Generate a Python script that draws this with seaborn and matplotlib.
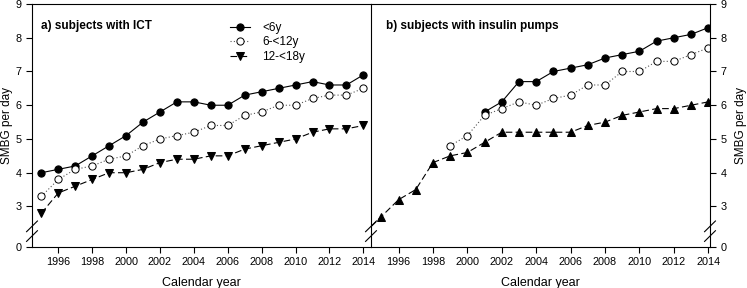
import matplotlib
matplotlib.use("Agg")
import matplotlib.pyplot as plt
import numpy as np
import pandas as pd
import seaborn as sns

years = list(range(1994, 2015))
nan = np.nan

# panel a) subjects with ICT
ict_lt6 = [nan, 4.0, 4.1, 4.2, 4.5, 4.8, 5.1, 5.5, 5.8, 6.1, 6.1, 6.0, 6.0, 6.3, 6.4, 6.5, 6.6, 6.7, 6.6, 6.6, 6.9]
ict_6_12 = [nan, 3.3, 3.8, 4.1, 4.2, 4.4, 4.5, 4.8, 5.0, 5.1, 5.2, 5.4, 5.4, 5.7, 5.8, 6.0, 6.0, 6.2, 6.3, 6.3, 6.5]
ict_12_18 = [nan, 2.8, 3.4, 3.6, 3.8, 4.0, 4.0, 4.1, 4.3, 4.4, 4.4, 4.5, 4.5, 4.7, 4.8, 4.9, 5.0, 5.2, 5.3, 5.3, 5.4]

# panel b) subjects with insulin pumps
csii_lt6 = [nan] * 7 + [5.8, 6.1, 6.7, 6.7, 7.0, 7.1, 7.2, 7.4, 7.5, 7.6, 7.9, 8.0, 8.1, 8.3]
csii_6_12 = [nan] * 5 + [4.8, 5.1, 5.7, 5.9, 6.1, 6.0, 6.2, 6.3, 6.6, 6.6, 7.0, 7.0, 7.3, 7.3, 7.5, 7.7]
csii_12_18 = [2.2, 2.7, 3.2, 3.5, 4.3, 4.5, 4.6, 4.9, 5.2, 5.2, 5.2, 5.2, 5.2, 5.4, 5.5, 5.7, 5.8, 5.9, 5.9, 6.0, 6.1]

groups = ["<6y", "6-<12y", "12-<18y"]
ytick_vals = [3, 4, 5, 6, 7, 8, 9]

plt.rcParams['font.family'] = ['Liberation Sans', 'DejaVu Sans']

fig = plt.figure(figsize=(7.47, 2.88), dpi=100)
ax1 = fig.add_axes([32 / 747, 1 - 247 / 288, 339 / 747, 243 / 288])
ax2 = fig.add_axes([371 / 747, 1 - 247 / 288, 339 / 747, 243 / 288])
ax2.patch.set_visible(False)

styles = {
    "<6y": dict(color="black", linestyle="-", marker="o", markerfacecolor="black",
                markeredgecolor="black", markersize=5.2, linewidth=0.8),
    "6-<12y": dict(color="#555555", linestyle=(0, (1, 2)), marker="o", markerfacecolor="white",
                   markeredgecolor="black", markeredgewidth=0.7, markersize=5.2, linewidth=0.8),
    "12-<18y": dict(color="black", linestyle=(0, (6, 3)), marker="v", markerfacecolor="black",
                    markeredgecolor="black", markersize=5.2, linewidth=0.8),
}


def draw(ax, series, teen_marker):
    for g, vals in zip(groups, series):
        df = pd.DataFrame({"year": years, "smbg": vals}).dropna()
        kw = dict(styles[g])
        if g == "12-<18y":
            kw["marker"] = teen_marker
        sns.lineplot(data=df, x="year", y="smbg", ax=ax, label=g, errorbar=None, **kw)


draw(ax1, [ict_lt6, ict_6_12, ict_12_18], "v")
draw(ax2, [csii_lt6, csii_6_12, csii_12_18], "^")

ybottom = 3 - 40.6 / 33.8
for ax in (ax1, ax2):
    ax.set_ylim(ybottom, 9)
    ax.set_yticks([ybottom] + ytick_vals)
    ax.set_yticklabels(["0"] + [str(v) for v in ytick_vals])
    ax.set_xticks(list(range(1996, 2015, 2)))
    ax.tick_params(direction="out", length=4, width=0.8, labelsize=7.8, colors="black")
    for s in ax.spines.values():
        s.set_linewidth(0.8)
        s.set_color("black")
    ax.set_xlabel("Calendar year", fontsize=9, labelpad=7)
    ax.set_ylabel("SMBG per day", fontsize=8.5, labelpad=2)

ax1.set_xlim(1994.45, 2014.45)
ax2.set_xlim(1994.4, 2014.1)

ax2.yaxis.tick_right()
ax2.yaxis.set_label_position("right")
ax2.set_ylabel("SMBG per day", fontsize=8.5, labelpad=6)
ax2.spines["left"].set_visible(False)

ax1.text(0.027, 0.91, "a) subjects with ICT", transform=ax1.transAxes,
         fontsize=8.5, fontweight="bold", va="center")
ax2.text(0.044, 0.91, "b) subjects with insulin pumps", transform=ax2.transAxes,
         fontsize=8.5, fontweight="bold", va="center")

ax1.legend(loc="upper left", bbox_to_anchor=(0.56, 0.96), frameon=False,
           fontsize=8.5, handlelength=1.7, handletextpad=1.0, labelspacing=0.2,
           borderpad=0.2)
ax2.get_legend().remove()


def breakmark(ax, x):
    dx, dy = 0.016, 0.022
    for y0 in (0.045, 0.085):
        ax.plot([x - dx, x + dx], [y0 - dy, y0 + dy], transform=ax.transAxes,
                color="black", linewidth=0.8, clip_on=False)


breakmark(ax1, 0.0)
breakmark(ax1, 1.0)
breakmark(ax2, 1.0)

fig.savefig("out.png", dpi=100)
